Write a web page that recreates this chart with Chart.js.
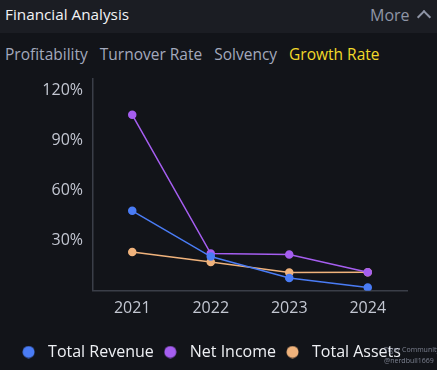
<!DOCTYPE html>
<html><head><meta charset="utf-8">
<script src="https://cdn.jsdelivr.net/npm/chart.js@4"></script>
<style>
html,body{margin:0;padding:0;background:#121419;width:437px;height:370px;overflow:hidden;font-family:"Open Sans","Noto Sans",sans-serif;}
#hdr{position:absolute;left:0;top:0;width:437px;height:33px;background:#1b1d23;}
#title{position:absolute;left:5px;top:4px;color:#f2f3f5;font-size:15.3px;}
#more{position:absolute;left:370px;top:4px;color:#8f95a6;font-size:16px;}
#chev{position:absolute;left:419px;top:12px;width:8px;height:8px;border-left:2px solid #8f95a6;border-top:2px solid #8f95a6;transform:rotate(45deg);}
#tabs{position:absolute;left:5px;top:43px;font-size:15.5px;color:#a3a9bd;white-space:nowrap;}
#tabs span{margin-right:12px;}
#tabs .act{color:#f2d92a;}
#wrap{position:absolute;left:0;top:59px;width:437px;height:311px;}
#wm{position:absolute;left:384px;top:344px;font-size:7px;color:#7c8190;line-height:11px;white-space:nowrap;}
</style></head>
<body>
<div id="hdr"><div id="title">Financial Analysis</div><div id="more">More</div><div id="chev"></div></div>
<div id="tabs"><span>Profitability</span><span>Turnover Rate</span><span>Solvency</span><span class="act">Growth Rate</span></div>
<div id="wrap"><canvas id="c" width="437" height="311"></canvas></div>
<div id="wm">Tiger Community<br>@nerdbull1669</div>
<script>
const categories = ["2021","2022","2023","2024"];
const totalRevenue = [47.8, 20.4, 7.6, 1.9];
const netIncome = [105.3, 22.2, 21.6, 11.0];
const totalAssets = [23.1, 17.2, 10.9, 11.0];
const yTicks = [30, 60, 90, 120];
const seriesNames = ["Total Revenue","Net Income","Total Assets"];
const colors = ["#4a7cf5","#a55ef0","#f0b37c"];
const FONT = '"Open Sans","Noto Sans",sans-serif';

function dot(color){
  const c = document.createElement('canvas'); c.width = 13; c.height = 13;
  const x = c.getContext('2d'); x.fillStyle = color; x.beginPath(); x.arc(6.5,6.5,6,0,Math.PI*2); x.fill();
  return c;
}
const dots = colors.map(dot);

function ds(label, data, color){
  return {label, data, borderColor:color, backgroundColor:color, pointBackgroundColor:color, pointBorderColor:color,
    borderWidth:1.5, pointRadius:3.5, pointHoverRadius:3.5, tension:0};
}
new Chart(document.getElementById('c'), {
  type:'line',
  data:{labels:categories, datasets:[
    ds(seriesNames[0], totalRevenue, colors[0]),
    ds(seriesNames[1], netIncome, colors[1]),
    ds(seriesNames[2], totalAssets, colors[2])
  ]},
  options:{
    responsive:false, animation:false, devicePixelRatio:1,
    layout:{padding:{left:11,right:30,top:8,bottom:0}},
    plugins:{
      tooltip:{enabled:false},
      legend:{position:'bottom',
        title:{display:true, text:'', padding:{top:12,bottom:0}, font:{size:1}},
        labels:{usePointStyle:true, boxWidth:8.5, boxHeight:8.5, pointStyleWidth:23, padding:5,
        color:'#eef0f4', font:{family:FONT, size:16},
        generateLabels:(chart)=>{
          const items = Chart.defaults.plugins.legend.labels.generateLabels(chart);
          items.forEach((it,i)=>{ it.pointStyle = dots[i]; });
          return items;
        }}}
    },
    scales:{
      x:{offset:true, grid:{display:false, drawTicks:false},
        border:{display:true,color:'#3a3e48',width:1.5},
        ticks:{color:'#c3c7d2', padding:8, font:{family:FONT, size:16}}},
      y:{min:0, max:127, grid:{display:false, drawTicks:false},
        border:{display:true,color:'#3a3e48',width:1.5},
        afterBuildTicks:(s)=>{ s.ticks = yTicks.map(v=>({value:v})); },
        afterFit:(s)=>{ s.width = 82; },
        ticks:{color:'#c3c7d2', padding:10, font:{family:FONT, size:16},
          callback:(v)=> v+'%'}}
    }
  }
});
</script>
</body></html>
